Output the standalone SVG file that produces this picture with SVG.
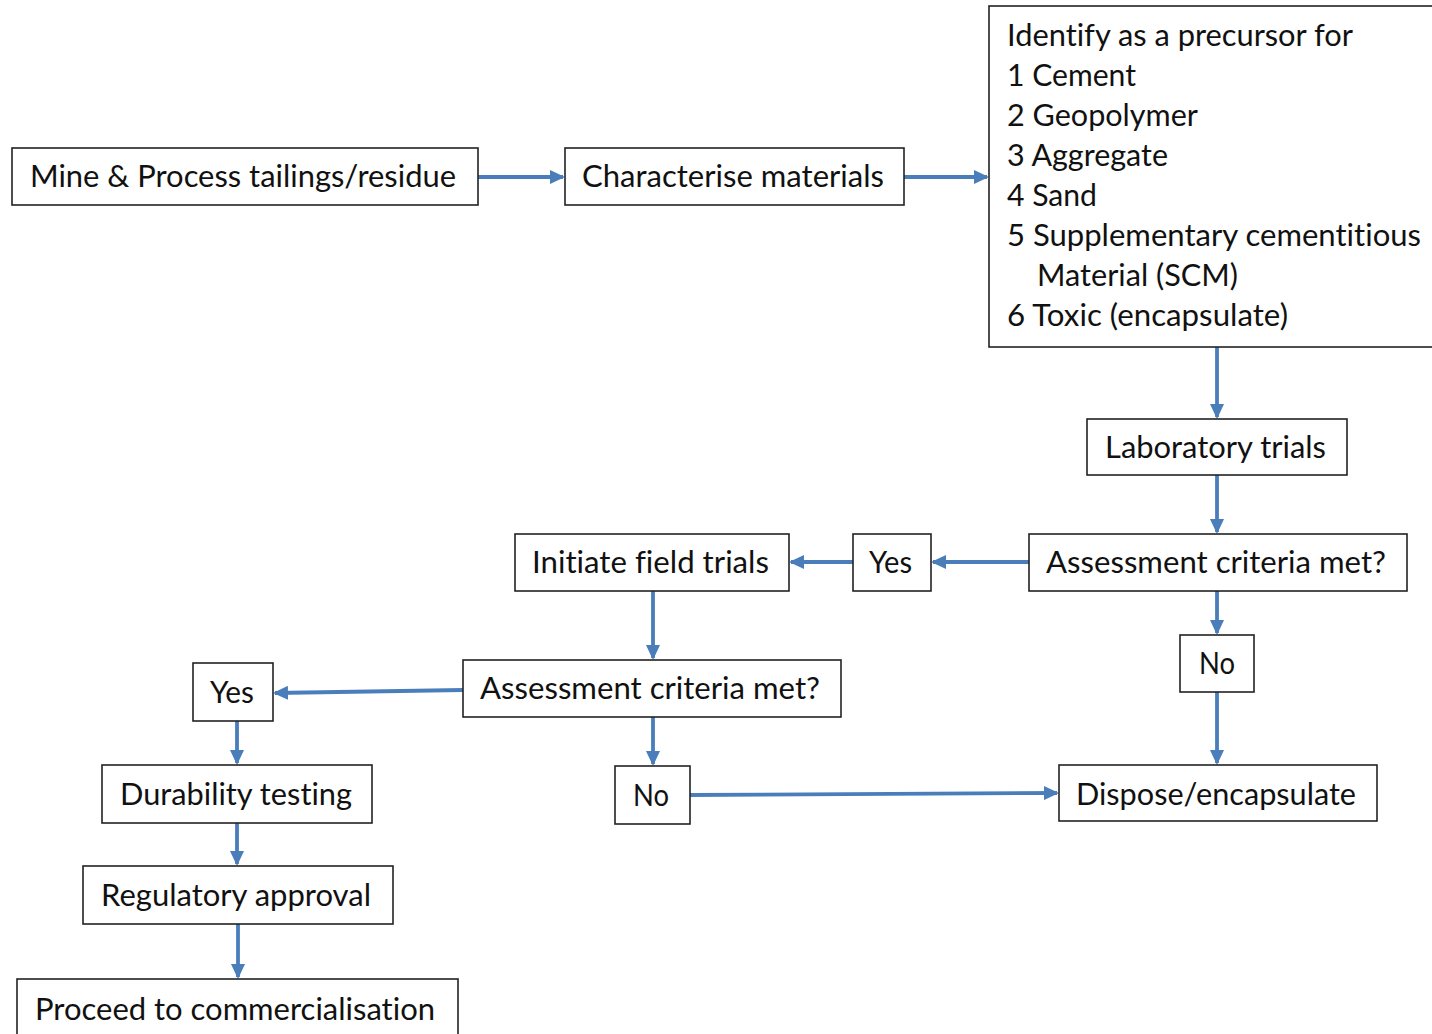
<svg xmlns="http://www.w3.org/2000/svg" width="1432" height="1034" viewBox="0 0 1432 1034">
  <style>
    .box { fill: #ffffff; stroke: #222222; stroke-width: 1.6; }
    .lbl { font-family: Lato, "Open Sans", "Liberation Sans", sans-serif; font-size: 30px; fill: #111111; font-variant-ligatures: none; }
    .edge { fill: none; stroke: #4a7ebb; stroke-width: 3.8; marker-end: url(#arrow); }
  </style>
  <defs>
    <marker id="arrow" viewBox="0 0 15 14" refX="13" refY="7" markerWidth="15" markerHeight="14" orient="auto" markerUnits="userSpaceOnUse">
      <path d="M0,0 L15,7 L0,14 Z" fill="#4a7ebb"/>
    </marker>
  </defs>
  <rect width="1432" height="1034" fill="#ffffff"/>

  <g id="connectors">
    <line class="edge" x1="478" y1="177" x2="563" y2="177"/>
    <line class="edge" x1="904" y1="177" x2="987" y2="177"/>
    <line class="edge" x1="1217" y1="347" x2="1217" y2="417"/>
    <line class="edge" x1="1217" y1="475" x2="1217" y2="532"/>
    <line class="edge" x1="1029" y1="562" x2="933" y2="562"/>
    <line class="edge" x1="853" y1="562" x2="791" y2="562"/>
    <line class="edge" x1="1217" y1="591" x2="1217" y2="633"/>
    <line class="edge" x1="1217" y1="692" x2="1217" y2="763"/>
    <line class="edge" x1="653" y1="591" x2="653" y2="658"/>
    <line class="edge" x1="463" y1="690" x2="275" y2="693"/>
    <line class="edge" x1="653" y1="717" x2="653" y2="764"/>
    <line class="edge" x1="690" y1="795" x2="1057" y2="793"/>
    <line class="edge" x1="237" y1="721" x2="237" y2="763"/>
    <line class="edge" x1="237" y1="823" x2="237" y2="864"/>
    <line class="edge" x1="238" y1="924" x2="238" y2="977"/>
  </g>

  <g id="mine">
    <rect class="box" x="12" y="148" width="466" height="57"/>
    <text class="lbl" x="30" y="187" textLength="426" lengthAdjust="spacingAndGlyphs">Mine &amp; Process tailings/residue</text>
  </g>
  <g id="characterise">
    <rect class="box" x="565" y="148" width="339" height="57"/>
    <text class="lbl" x="582" y="187" textLength="302" lengthAdjust="spacingAndGlyphs">Characterise materials</text>
  </g>
  <g id="identify">
    <rect class="box" x="989" y="6" width="470" height="341"/>
    <text class="lbl" x="1007" y="46" textLength="346" lengthAdjust="spacingAndGlyphs">Identify as a precursor for</text>
    <text class="lbl" x="1007" y="86" textLength="129" lengthAdjust="spacingAndGlyphs">1 Cement</text>
    <text class="lbl" x="1007" y="126" textLength="191" lengthAdjust="spacingAndGlyphs">2 Geopolymer</text>
    <text class="lbl" x="1007" y="166" textLength="161" lengthAdjust="spacingAndGlyphs">3 Aggregate</text>
    <text class="lbl" x="1007" y="206" textLength="90" lengthAdjust="spacingAndGlyphs">4 Sand</text>
    <text class="lbl" x="1007" y="246" textLength="414" lengthAdjust="spacingAndGlyphs">5 Supplementary cementitious</text>
    <text class="lbl" x="1037" y="286" textLength="201" lengthAdjust="spacingAndGlyphs">Material (SCM)</text>
    <text class="lbl" x="1007" y="326" textLength="281" lengthAdjust="spacingAndGlyphs">6 Toxic (encapsulate)</text>
  </g>
  <g id="lab-trials">
    <rect class="box" x="1087" y="419" width="260" height="56"/>
    <text class="lbl" x="1105" y="458" textLength="221" lengthAdjust="spacingAndGlyphs">Laboratory trials</text>
  </g>
  <g id="assess-lab">
    <rect class="box" x="1029" y="534" width="378" height="57"/>
    <text class="lbl" x="1046" y="573" textLength="340" lengthAdjust="spacingAndGlyphs">Assessment criteria met?</text>
  </g>
  <g id="yes-lab">
    <rect class="box" x="853" y="534" width="78" height="57"/>
    <text class="lbl" x="869" y="573" textLength="43" lengthAdjust="spacingAndGlyphs">Yes</text>
  </g>
  <g id="field-trials">
    <rect class="box" x="515" y="534" width="274" height="57"/>
    <text class="lbl" x="532" y="573" textLength="237" lengthAdjust="spacingAndGlyphs">Initiate field trials</text>
  </g>
  <g id="no-lab">
    <rect class="box" x="1180" y="635" width="74" height="57"/>
    <text class="lbl" x="1199" y="674" textLength="36" lengthAdjust="spacingAndGlyphs">No</text>
  </g>
  <g id="assess-field">
    <rect class="box" x="463" y="660" width="378" height="57"/>
    <text class="lbl" x="480" y="699" textLength="340" lengthAdjust="spacingAndGlyphs">Assessment criteria met?</text>
  </g>
  <g id="yes-field">
    <rect class="box" x="193" y="663" width="80" height="58"/>
    <text class="lbl" x="210" y="703" textLength="44" lengthAdjust="spacingAndGlyphs">Yes</text>
  </g>
  <g id="no-field">
    <rect class="box" x="615" y="766" width="75" height="58"/>
    <text class="lbl" x="633" y="806" textLength="36" lengthAdjust="spacingAndGlyphs">No</text>
  </g>
  <g id="dispose">
    <rect class="box" x="1059" y="765" width="318" height="56"/>
    <text class="lbl" x="1076" y="805" textLength="280" lengthAdjust="spacingAndGlyphs">Dispose/encapsulate</text>
  </g>
  <g id="durability">
    <rect class="box" x="102" y="765" width="270" height="58"/>
    <text class="lbl" x="120" y="805" textLength="232" lengthAdjust="spacingAndGlyphs">Durability testing</text>
  </g>
  <g id="regulatory">
    <rect class="box" x="83" y="866" width="310" height="58"/>
    <text class="lbl" x="101" y="906" textLength="270" lengthAdjust="spacingAndGlyphs">Regulatory approval</text>
  </g>
  <g id="commercialise">
    <rect class="box" x="17" y="979" width="441" height="70"/>
    <text class="lbl" x="35" y="1020" textLength="400" lengthAdjust="spacingAndGlyphs">Proceed to commercialisation</text>
  </g>
</svg>
